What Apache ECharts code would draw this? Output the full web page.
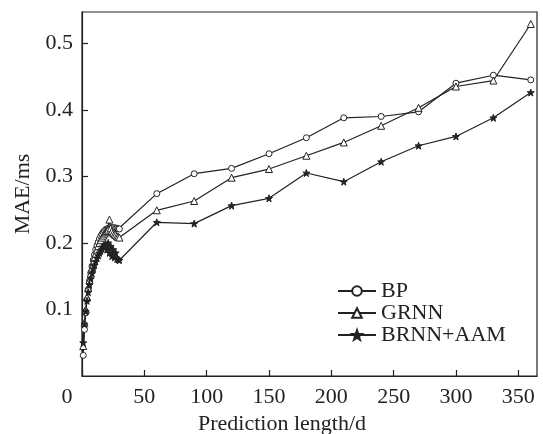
<!DOCTYPE html>
<html><head><meta charset="utf-8">
<script src="https://cdn.jsdelivr.net/npm/echarts@6/dist/echarts.min.js"></script>
<style>html,body{margin:0;padding:0;background:#fff}#c{width:543px;height:434px}</style>
</head><body><div id="c"></div>
<script>
const days = [1,2,3,4,5,6,7,8,9,10,11,12,13,14,15,16,17,18,19,20,21,22,23,24,25,26,27,28,29,30,60,90,120,150,180,210,240,270,300,330,360];
const bp = [0.031,0.07,0.095,0.115,0.13,0.143,0.155,0.165,0.174,0.182,0.19,0.196,0.201,0.206,0.21,0.213,0.216,0.218,0.22,0.221,0.222,0.222,0.223,0.223,0.222,0.223,0.222,0.222,0.221,0.221,
  0.274,0.304,0.312,0.334,0.358,0.388,0.390,0.397,0.440,0.452,0.445];
const grnn = [0.045,0.08,0.1,0.118,0.132,0.144,0.154,0.163,0.171,0.178,0.184,0.19,0.195,0.2,0.204,0.208,0.211,0.214,0.216,0.218,0.22,0.235,0.222,0.218,0.215,0.213,0.212,0.21,0.209,0.208,
  0.249,0.263,0.298,0.311,0.331,0.351,0.376,0.403,0.435,0.444,0.529];
const brnn = [0.05,0.078,0.097,0.113,0.126,0.137,0.146,0.154,0.161,0.167,0.172,0.177,0.181,0.185,0.188,0.191,0.194,0.196,0.198,0.19,0.2,0.185,0.195,0.18,0.19,0.178,0.185,0.176,0.175,0.174,
  0.231,0.229,0.256,0.267,0.305,0.292,0.322,0.346,0.360,0.388,0.426];
const names = ['BP','GRNN','BRNN+AAM'];
const xTicks = [0,50,100,150,200,250,300,350];

const font = "'Times New Roman', 'Liberation Serif', Times, serif";
const col = '#222';
const star = 'path://M0,-10L2.35,-3.24L9.51,-3.09L3.8,1.24L5.88,8.09L0,4L-5.88,8.09L-3.8,1.24L-9.51,-3.09L-2.35,-3.24Z';
const pairs = arr => days.map((d,i)=>[d,arr[i]]);
function ser(name, arr, symbol, size, fill){
  return {name, type:'line', data:pairs(arr), symbol, symbolSize:size, showSymbol:true,
    lineStyle:{color:col,width:1.2}, itemStyle:{color:fill,borderColor:col,borderWidth:1}, animation:false};
}
const chart = echarts.init(document.getElementById('c'));
chart.setOption({
  animation:false,
  grid:{left:82,top:12,right:6,bottom:58,containLabel:false,outerBoundsMode:'none',
    show:true,borderColor:col,borderWidth:1.2,backgroundColor:'transparent'},
  legend:{orient:'vertical',left:332,top:275,itemWidth:38,itemHeight:12,itemGap:0,
    textStyle:{fontFamily:font,fontSize:22,color:col,lineHeight:22},data:names},
  xAxis:{type:'value',min:0,max:365,interval:50,
    name:'Prediction length/d',nameLocation:'middle',nameGap:30,
    nameTextStyle:{fontFamily:font,fontSize:22,color:col,padding:[0,55,0,0]},
    axisLine:{lineStyle:{color:col,width:1.2}},
    axisTick:{inside:true,length:6,lineStyle:{color:col,width:1.2}},
    splitLine:{show:false},
    axisLabel:{showMaxLabel:false,margin:10,fontFamily:font,fontSize:22,color:col,
      formatter:v=> xTicks.indexOf(v)<0 ? '' : (v===0?'{z|0}':String(v)),
      rich:{z:{fontFamily:font,fontSize:22,color:col,padding:[0,30,0,0]}}}},
  yAxis:{type:'value',min:0,max:0.547,interval:0.1,
    name:'MAE/ms',nameLocation:'middle',nameGap:42,
    nameTextStyle:{fontFamily:font,fontSize:22,color:col},
    axisLine:{lineStyle:{color:col,width:1.2}},
    axisTick:{inside:true,length:6,lineStyle:{color:col,width:1.2}},
    splitLine:{show:false},
    axisLabel:{showMaxLabel:false,showMinLabel:false,margin:9,fontFamily:font,fontSize:22,color:col,
      formatter:v=>v.toFixed(1)}},
  series:[
    ser('BP',bp,'circle',6,'#fff'),
    ser('GRNN',grnn,'triangle',7,'#fff'),
    ser('BRNN+AAM',brnn,star,7,col)
  ]
});
</script></body></html>
